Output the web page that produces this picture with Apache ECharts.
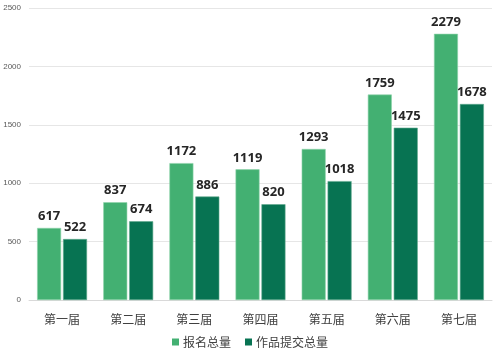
<!DOCTYPE html>
<html><head><meta charset="utf-8">
<script src="https://cdn.jsdelivr.net/npm/echarts@6/dist/echarts.min.js"></script>
<style>html,body{margin:0;padding:0;background:#fff}#c{width:500px;height:358px}</style>
</head><body><div id="c"></div>
<script>
const categories = ['第一届','第二届','第三届','第四届','第五届','第六届','第七届'];
const signups = [617, 837, 1172, 1119, 1293, 1759, 2279];
const submissions = [522, 674, 886, 820, 1018, 1475, 1678];
const seriesNames = ['报名总量','作品提交总量'];
const yTicks = {min: 0, max: 2500, interval: 500};

const font = '"Microsoft YaHei","Noto Sans CJK SC",sans-serif';
const chart = echarts.init(document.getElementById('c'));
const labelCfg = {show: true, position: 'top', color: '#262626', fontWeight: 'bold', fontSize: 13, fontFamily: 'Open Sans, sans-serif', distance: 5};
chart.setOption({
  animation: false,
  grid: {left: 29, right: 8, top: 8, bottom: 58},
  legend: {bottom: 5, left: 'center', itemWidth: 7, itemHeight: 7, itemGap: 14, icon: 'rect',
    itemStyle: {borderWidth: 0},
    textStyle: {fontSize: 12, color: '#404040', fontFamily: font, padding: [0,0,0,-1]}},
  xAxis: {type: 'category', data: categories,
    axisLine: {lineStyle: {color: '#d9d9d9'}}, axisTick: {show: false},
    axisLabel: {color: '#404040', fontSize: 12, margin: 13, fontFamily: font}},
  yAxis: {type: 'value', min: yTicks.min, max: yTicks.max, interval: yTicks.interval,
    axisLine: {show: false}, axisTick: {show: false},
    axisLabel: {color: '#595959', fontSize: 8, margin: 8, formatter: v => String(v)},
    splitLine: {lineStyle: {color: '#e6e6e6'}}},
  series: [
    {name: seriesNames[0], type: 'bar', data: signups, barWidth: 24, barGap: '8%',
      itemStyle: {color: '#43b072', borderColor: '#8fd3ab', borderWidth: 0.6}, label: labelCfg},
    {name: seriesNames[1], type: 'bar', data: submissions, barWidth: 24,
      itemStyle: {color: '#077352', borderColor: '#5fa98d', borderWidth: 0.6}, label: labelCfg}
  ]
});
</script></body></html>
